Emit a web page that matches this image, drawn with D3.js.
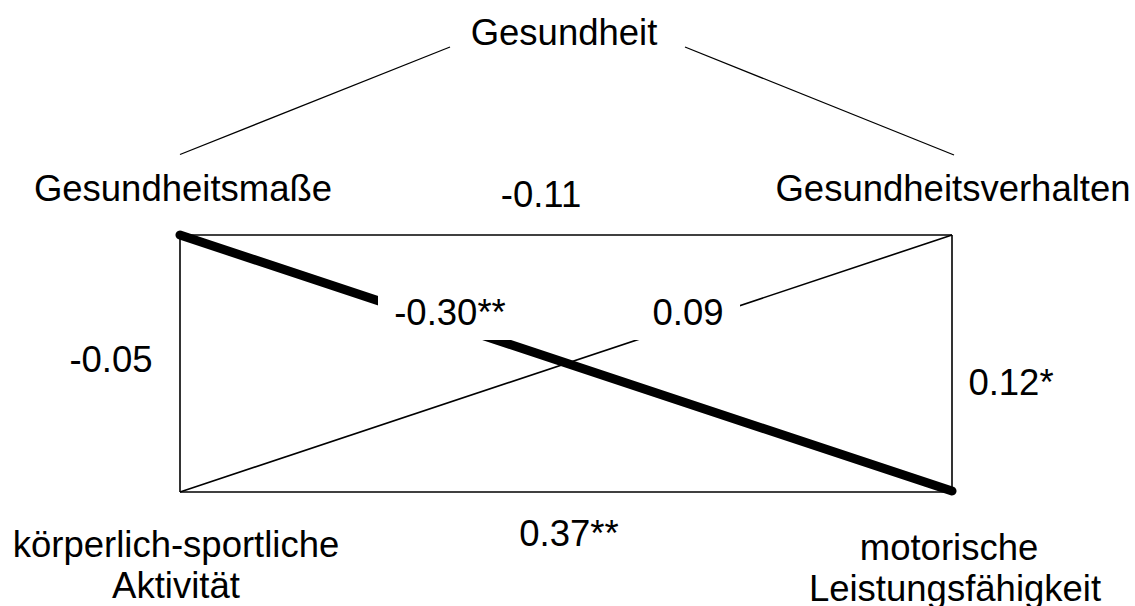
<!DOCTYPE html>
<html>
<head>
<meta charset="utf-8">
<script src="https://cdn.jsdelivr.net/npm/d3@7"></script>
<style>
  html, body { margin: 0; padding: 0; background: #fff; }
  svg text { font-family: "Liberation Sans", Arial, sans-serif; fill: #000; }
</style>
</head>
<body>
<svg id="chart" width="1135" height="606"></svg>
<script>
// ---- data ----
const rootConstruct = "Gesundheit";
const constructs = ["Gesundheitsmaße", "Gesundheitsverhalten", "körperlich-sportliche Aktivität", "motorische Leistungsfähigkeit"];
// grid positions of the four constructs (column, row) in unit space
const constructCols = [0, 1, 0, 1];
const constructRows = [0, 0, 1, 1];
// correlations between constructs
const edgeFrom = [0, 0, 1, 0, 2, 2];
const edgeTo   = [1, 2, 3, 3, 1, 3];
const edgeLabels = ["-0.11", "-0.05", "0.12*", "-0.30**", "0.09", "0.37**"];

// ---- drawing ----
const svg = d3.select("#chart");
const x = d3.scaleLinear().domain([0, 1]).range([180, 952]);
const y = d3.scaleLinear().domain([0, 1]).range([235, 492]);
const FS = 36.5;

const thickIndex = 3; // the -0.30** path is drawn bold

const edges = edgeFrom.map((f, i) => ({
  x1: x(constructCols[f]), y1: y(constructRows[f]),
  x2: x(constructCols[edgeTo[i]]), y2: y(constructRows[edgeTo[i]]),
  label: edgeLabels[i], i
}));

// hierarchy lines from root
const rootY = 47, leafY = 154.5;
const rootLines = [
  { x1: 450, y1: rootY, x2: x(0), y2: leafY },
  { x1: 685, y1: rootY, x2: x(1) + 2, y2: leafY + 0.5 }
];
svg.selectAll("line.root").data(rootLines).enter().append("line")
  .attr("class", "root")
  .attr("x1", d => d.x1).attr("y1", d => d.y1)
  .attr("x2", d => d.x2).attr("y2", d => d.y2)
  .attr("stroke", "#000").attr("stroke-width", 1.3);

// thin edges first, thick one last
const order = edges.filter(e => e.i !== thickIndex).concat(edges.filter(e => e.i === thickIndex));
svg.selectAll("line.edge").data(order).enter().append("line")
  .attr("class", "edge")
  .attr("x1", d => d.x1).attr("y1", d => d.y1)
  .attr("x2", d => d.x2).attr("y2", d => d.y2 + (d.i === thickIndex ? -1 : 0))
  .attr("stroke", "#000")
  .attr("stroke-width", d => d.i === thickIndex ? 9 : 1.6)
  .attr("stroke-linecap", d => d.i === thickIndex ? "round" : "butt");

// white label box masking the crossing diagonals
svg.append("rect")
  .attr("x", 378).attr("y", 282).attr("width", 362).attr("height", 58)
  .attr("fill", "#fff");

// label positions for edges (center x, baseline y)
const edgeLabelPos = [
  [541, 207],  // -0.11
  [111, 372],  // -0.05
  [1011, 395], // 0.12*
  [450, 325],  // -0.30**
  [688, 325],  // 0.09
  [569, 546]   // 0.37**
];
svg.selectAll("text.edge").data(edges).enter().append("text")
  .attr("class", "edge")
  .attr("x", d => edgeLabelPos[d.i][0])
  .attr("y", d => edgeLabelPos[d.i][1])
  .attr("text-anchor", "middle")
  .attr("font-size", FS)
  .text(d => d.label);

// root label
svg.append("text")
  .attr("x", 564).attr("y", 45)
  .attr("text-anchor", "middle").attr("font-size", FS)
  .text(rootConstruct);

// construct labels
const nodeLabelPos = [
  [[183, 201]],
  [[953, 201]],
  [[176, 557], [176, 598]],
  [[949, 560], [955, 601]]
];
const nodeLines = [
  [constructs[0]],
  [constructs[1]],
  ["körperlich-sportliche", "Aktivität"],
  ["motorische", "Leistungsfähigkeit"]
];
nodeLines.forEach((lines, i) => {
  lines.forEach((t, j) => {
    svg.append("text")
      .attr("x", nodeLabelPos[i][j][0]).attr("y", nodeLabelPos[i][j][1])
      .attr("text-anchor", "middle").attr("font-size", FS)
      .text(t);
  });
});
</script>
</body>
</html>
